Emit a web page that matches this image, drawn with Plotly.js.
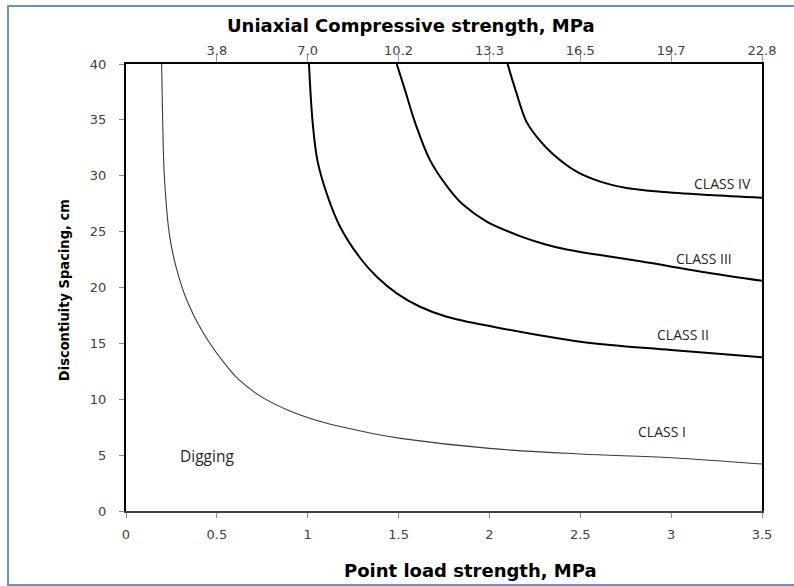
<!DOCTYPE html>
<html>
<head>
<meta charset="utf-8">
<script src="https://cdn.plot.ly/plotly-3.0.1.min.js"></script>
<style>
  html, body { margin: 0; padding: 0; background: #ffffff; }
  #chart { width: 794px; height: 586px; }
</style>
</head>
<body>
<div id="chart"></div>
<script>
// ---- Data ----
// Point load strength (MPa) vs discontinuity spacing (cm) boundary curves
var diggingX = [0.196, 0.202, 0.211, 0.238, 0.275, 0.334, 0.426, 0.572, 0.618, 0.737, 0.902, 1.10, 1.40, 1.51, 2.0, 2.5, 3.0, 3.5];
var diggingY = [40, 34.8, 30, 24.85, 21.86, 18.88, 15.9, 12.6, 11.8, 10.3, 8.95, 7.87, 6.8, 6.5, 5.6, 5.1, 4.77, 4.2];

var class1X = [1.007, 1.027, 1.053, 1.104, 1.178, 1.297, 1.38, 1.49, 1.618, 1.765, 2.02, 2.5, 3.0, 3.5];
var class1Y = [40, 34.8, 31.4, 28.43, 25.44, 22.46, 20.97, 19.48, 18.28, 17.39, 16.49, 15.15, 14.4, 13.75];

var class2X = [1.49, 1.533, 1.59, 1.673, 1.774, 1.856, 1.985, 2.168, 2.3, 2.425, 2.609, 2.83, 3.21, 3.5];
var class2Y = [40, 37.8, 34.8, 31.4, 28.9, 27.4, 25.9, 24.6, 23.9, 23.4, 22.9, 22.35, 21.3, 20.6];

var class3X = [2.10, 2.145, 2.205, 2.28, 2.352, 2.48, 2.61, 2.755, 2.94, 3.21, 3.5];
var class3Y = [40, 37.6, 34.8, 33.1, 31.9, 30.36, 29.47, 28.9, 28.57, 28.28, 28.04];

// Top axis: uniaxial compressive strength labels at point-load ticks
var topTickVals = [0.5, 1.0, 1.5, 2.0, 2.5, 3.0, 3.5];
var topTickText = ['3.8', '7.0', '10.2', '13.3', '16.5', '19.7', '22.8'];

// Bottom axis tick labels
var bottomTickVals = [0, 0.5, 1, 1.5, 2, 2.5, 3, 3.5];
var bottomTickText = ['0', '0.5', '1', '1.5', '2', '2.5', '3', '3.5'];

// Region labels
var regionNames = ['CLASS IV', 'CLASS III', 'CLASS II', 'CLASS I', 'Digging'];
var regionX = [3.28, 3.18, 3.065, 2.95, 0.444];
var regionY = [29.35, 22.6, 15.75, 7.07, 4.92];

// ---- Chart ----
var thin = { color: '#3a3a3a', width: 1.1, shape: 'spline', smoothing: 1 };
var thick = { color: '#000000', width: 2, shape: 'spline', smoothing: 1 };

var traces = [
  { x: diggingX, y: diggingY, mode: 'lines', line: thin, name: 'Digging / Class I', hoverinfo: 'skip' },
  { x: class1X, y: class1Y, mode: 'lines', line: thick, name: 'Class I / II', hoverinfo: 'skip' },
  { x: class2X, y: class2Y, mode: 'lines', line: thick, name: 'Class II / III', hoverinfo: 'skip' },
  { x: class3X, y: class3Y, xaxis: 'x2', mode: 'lines', line: thick, name: 'Class III / IV', hoverinfo: 'skip' }
];

var tickFont = { family: 'DejaVu Sans, Verdana, sans-serif', size: 13, color: '#404040' };
var titleFont = { family: 'DejaVu Sans, Verdana, sans-serif', size: 18, color: '#000000', weight: 'bold' };
var labelFont = { family: 'Open Sans, Liberation Sans, sans-serif', size: 14, color: '#262626' };

var annotations = regionNames.map(function (t, i) {
  return {
    x: regionX[i], y: regionY[i], xref: 'x', yref: 'y', text: t, showarrow: false,
    font: (t === 'Digging') ? { family: labelFont.family, size: 15.5, color: labelFont.color } : labelFont
  };
});

annotations.push({
  x: 0.448, y: 1.087, xref: 'paper', yref: 'paper', text: 'Uniaxial Compressive strength, MPa',
  showarrow: false, font: titleFont, xanchor: 'center', yanchor: 'middle'
});
annotations.push({
  x: 0.541, y: -0.134, xref: 'paper', yref: 'paper', text: 'Point load strength, MPa',
  showarrow: false, font: titleFont, xanchor: 'center', yanchor: 'middle'
});
annotations.push({
  x: -0.0975, y: 0.494, xref: 'paper', yref: 'paper', text: 'Discontiuity Spacing, cm',
  showarrow: false, textangle: -90, xanchor: 'center', yanchor: 'middle',
  font: { family: 'DejaVu Sans Condensed, Liberation Sans Narrow, sans-serif', size: 14.5, color: '#000000', weight: 'bold' }
});

var layout = {
  width: 794, height: 586,
  margin: { l: 126, r: 32, t: 64, b: 75, pad: 0 },
  paper_bgcolor: '#ffffff', plot_bgcolor: '#ffffff',
  showlegend: false,
  xaxis: {
    range: [0, 3.5], tickvals: bottomTickVals, ticktext: bottomTickText,
    showgrid: false, zeroline: false,
    showline: true, linecolor: '#404040', linewidth: 2,
    ticks: 'outside', ticklen: 5, tickcolor: '#8c8c8c', tickwidth: 1,
    tickfont: tickFont, ticklabelstandoff: 5
  },
  xaxis2: {
    range: [0, 3.5], overlaying: 'x', side: 'top', anchor: 'y',
    tickvals: topTickVals, ticktext: topTickText,
    showgrid: false, zeroline: false,
    showline: true, linecolor: '#000000', linewidth: 2,
    ticks: 'outside', ticklen: 7, tickcolor: '#6f9fd8', tickwidth: 1,
    tickfont: tickFont, ticklabelstandoff: -5
  },
  yaxis: {
    range: [0, 40], dtick: 5, tick0: 0,
    showgrid: false, zeroline: false,
    showline: true, linecolor: '#000000', linewidth: 2, mirror: true,
    ticks: 'outside', ticklen: 5, tickcolor: '#8c8c8c', tickwidth: 1,
    tickfont: tickFont, ticklabelstandoff: 10
  },
  annotations: annotations,
  shapes: [{
    type: 'rect', xref: 'paper', yref: 'paper',
    x0: -0.1855, x1: 1.06, y0: -0.1655, y1: 1.1298,
    line: { color: '#6b8fcc', width: 2 }, fillcolor: 'rgba(0,0,0,0)', layer: 'below'
  }]
};

Plotly.newPlot('chart', traces, layout, { staticPlot: true, displayModeBar: false });
</script>
</body>
</html>
